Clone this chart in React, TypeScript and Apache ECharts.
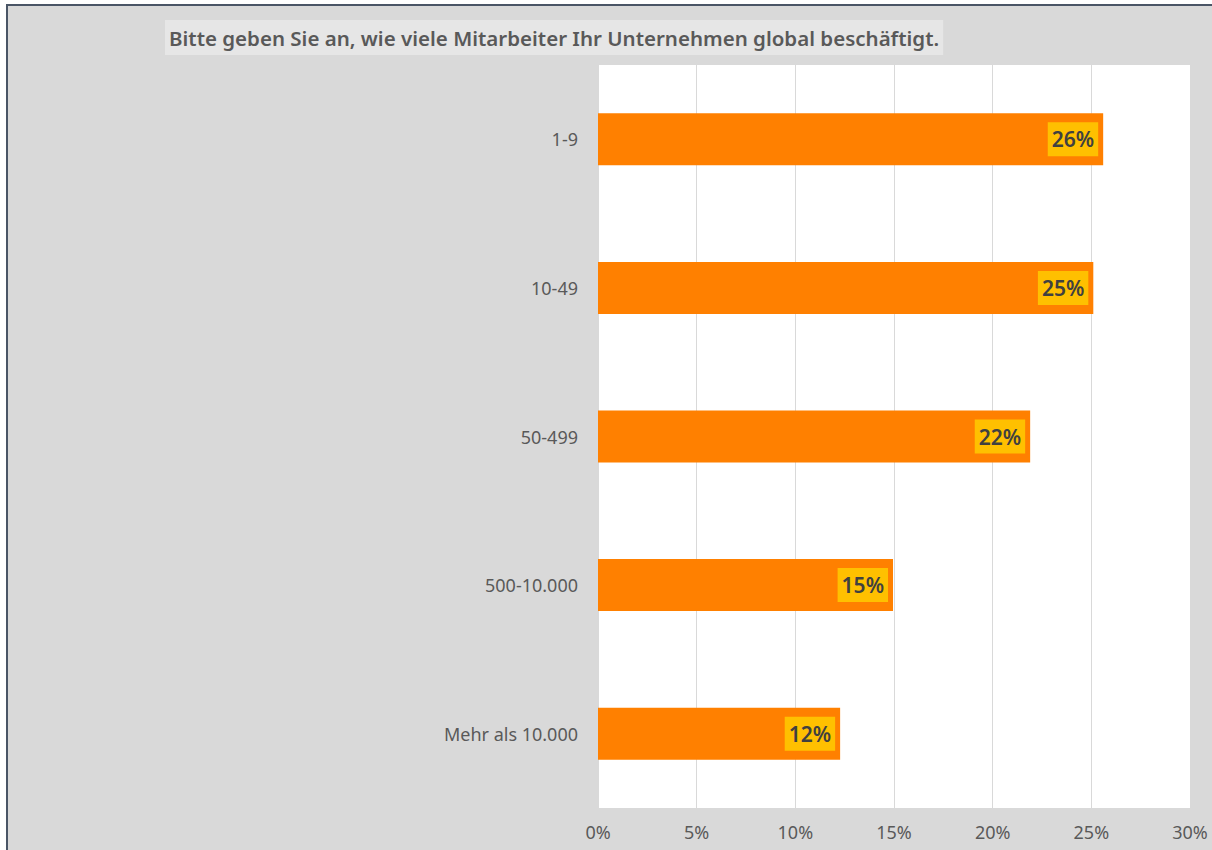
import React, { useEffect, useRef } from "react";
import * as echarts from "echarts";

const titleText = "Bitte geben Sie an, wie viele Mitarbeiter Ihr Unternehmen global beschäftigt.";
const categories = ["1-9", "10-49", "50-499", "500-10.000", "Mehr als 10.000"];
const values = [0.256, 0.251, 0.219, 0.1495, 0.1227];
const tickMin = 0;
const tickMax = 0.3;
const tickStep = 0.05;

export default function App() {
  const ref = useRef<HTMLDivElement>(null);
  useEffect(() => {
    document.body.style.margin = "0";
    const chart = echarts.init(ref.current!, null, { renderer: "svg" });
    const font = "'Noto Sans', sans-serif";
    chart.setOption({
      animation: false,
      backgroundColor: "#ffffff",
      textStyle: { fontFamily: font },
      graphic: [
        {
          type: "rect",
          z: -10,
          shape: { x: 7, y: 5, width: 1260, height: 900 },
          style: { fill: "#d9d9d9", stroke: "#4a5566", lineWidth: 2 },
          silent: true,
        },
      ],
      title: {
        text: titleText,
        left: 165,
        top: 20,
        padding: [7, 4, 7, 4],
        backgroundColor: "#e6e6e6",
        textStyle: { color: "#595959", fontSize: 20.5, fontWeight: 600, fontFamily: font },
      },
      grid: { left: 598, top: 65, width: 592, height: 743, backgroundColor: "#ffffff", show: true, borderWidth: 0 },
      xAxis: {
        type: "value",
        min: tickMin,
        max: tickMax,
        interval: tickStep,
        axisLine: { show: false },
        axisTick: { show: false },
        splitLine: { show: true, lineStyle: { color: "#d9d9d9", width: 1 } },
        axisLabel: {
          color: "#595959",
          fontSize: 18,
          margin: 15,
          formatter: (v: number) => Math.round(v * 100) + "%",
        },
      },
      yAxis: {
        type: "category",
        data: categories,
        inverse: true,
        axisLine: { show: false },
        axisTick: { show: false },
        axisLabel: { color: "#595959", fontSize: 18, margin: 20 },
      },
      series: [
        {
          type: "bar",
          data: values,
          barWidth: "35%",
          itemStyle: { color: "#ff8000" },
          label: {
            show: true,
            position: "insideRight",
            distance: 5,
            formatter: (p: any) => Math.round(p.value * 100) + "%",
            color: "#404040",
            fontSize: 21,
            fontWeight: 600,
            backgroundColor: "#ffc000",
            padding: [7, 4, 6, 4],
          },
        },
      ],
    });
    return () => chart.dispose();
  }, []);
  return <div ref={ref} style={{ width: 1212, height: 850 }} />;
}
